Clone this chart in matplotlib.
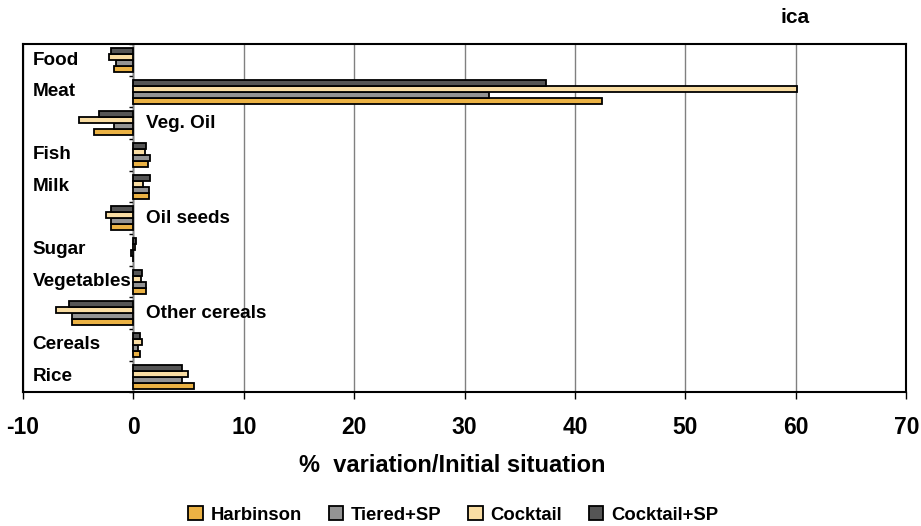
import numpy as np
import matplotlib.pyplot as plt
from matplotlib.patches import Patch

plt.rcParams['font.family'] = ['Liberation Sans', 'DejaVu Sans']
plt.rcParams['font.weight'] = 'bold'
plt.rcParams['axes.unicode_minus'] = False

# categories, bottom to top
categories = ['Rice', 'Cereals', 'Other cereals', 'Vegetables', 'Sugar', 'Oil seeds',
              'Milk', 'Fish', 'Veg. Oil', 'Meat', 'Food']
harbinson   = [5.5, 0.6, -5.6, 1.1, 0.0, -2.0, 1.45, 1.3, -3.6, 42.4, -1.8]
tiered_sp   = [4.4, 0.4, -5.6, 1.1, -0.2, -2.0, 1.45, 1.5, -1.8, 32.2, -1.6]
cocktail    = [4.9, 0.8, -7.0, 0.65, 0.15, -2.5, 0.9, 1.05, -4.9, 60.1, -2.2]
cocktail_sp = [4.4, 0.6, -5.8, 0.75, 0.25, -2.0, 1.5, 1.1, -3.1, 37.4, -2.0]
label_right = ['Other cereals', 'Oil seeds', 'Veg. Oil']

series = [('Harbinson', harbinson, '#EBB244'),
          ('Tiered+SP', tiered_sp, '#939393'),
          ('Cocktail', cocktail, '#F9DDA3'),
          ('Cocktail+SP', cocktail_sp, '#555555')]

fig = plt.figure(figsize=(9.21, 5.26), dpi=100)
ax = fig.add_axes([0.025, 0.254, 0.959, 0.662])

y = np.arange(len(categories))
h = 0.19
for k, (name, vals, col) in enumerate(series):
    ax.barh(y + (k - 1.5) * h, vals, height=h, color=col, edgecolor='black',
            linewidth=1.3, label=name, zorder=3)

ax.set_xlim(-10, 70)
ax.set_ylim(-0.5, len(categories) - 0.5)
ax.set_xticks(np.arange(-10, 71, 10))
ax.tick_params(axis='x', labelsize=16.5, length=5, width=1, pad=12)
ax.set_yticks([])
ax.grid(axis='x', color='#808080', linewidth=1, zorder=0)
for s in ax.spines.values():
    s.set_linewidth(1.5)

# zero axis with small ticks between groups
zero_ax = ax.secondary_yaxis(10 / 80)
zero_ax.set_yticks(np.arange(-0.5, len(categories), 1.0))
zero_ax.set_yticklabels([])
zero_ax.tick_params(length=3, width=1)
zero_ax.spines['left'].set_linewidth(1)

for i, c in enumerate(categories):
    if c in label_right:
        ax.text(1.1, i - 0.02, c, fontsize=13.6, fontweight='bold', va='center', ha='left')
    else:
        ax.text(-9.15, i + 0.0, c, fontsize=13.6, fontweight='bold', va='center', ha='left')

ax.set_xlabel('%  variation/Initial situation', fontsize=17, fontweight='bold')
ax.xaxis.set_label_coords(0.486, -0.178)
fig.text(0.863, 0.966, 'ica', fontsize=15, fontweight='bold', ha='center', va='center')

handles = [Patch(facecolor=col, edgecolor='black', linewidth=1.3, label=name)
           for name, vals, col in series]
fig.legend(handles=handles, loc='center', bbox_to_anchor=(0.492, 0.021), ncol=4,
           frameon=False, fontsize=13.3, handlelength=0.8, handleheight=0.8,
           handletextpad=0.4, columnspacing=1.45)

fig.savefig('out.png', dpi=100)
